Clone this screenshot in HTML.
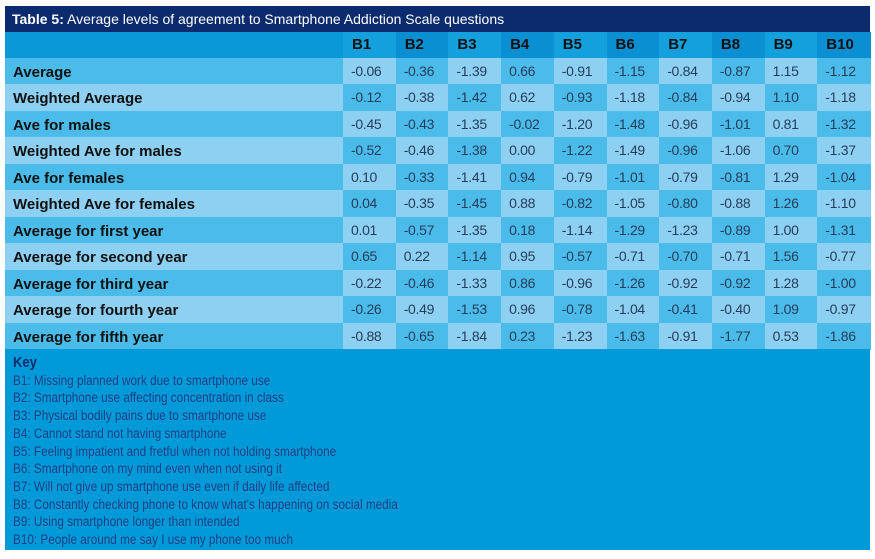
<!DOCTYPE html>
<html><head><meta charset="utf-8">
<style>
body{margin:0;width:875px;height:559px;background:#fff;position:relative;overflow:hidden;font-family:"Liberation Sans",sans-serif}
.c{position:absolute;box-sizing:border-box;white-space:nowrap}
#title{left:5px;top:6px;width:865px;height:26px;background:#0b2b6e;color:#fff;font-size:14px;line-height:26px;padding-left:7px}
#key{left:5px;top:349px;width:865px;height:201px;background:#009ad8;padding:5px 0 0 8px}
#keyin{color:#1d3f86;font-size:13.5px;line-height:17.7px;transform:scaleX(0.87);transform-origin:0 0;white-space:nowrap}
#keyin b{color:#0b2b6e;font-size:15px}
.lab{font-weight:bold;font-size:15px;color:#111;padding-left:8px;padding-top:2px}
.hd{font-weight:bold;font-size:15px;color:#111;padding-left:9px}
.num{font-size:14px;color:#263c5c;padding-left:8px;letter-spacing:-0.3px}
</style></head><body>
<div id="title" class="c"><b>Table 5:</b> Average levels of agreement to Smartphone Addiction Scale questions</div>
<div id="tbl"></div>
<div id="key" class="c"><div id="keyin"><b>Key</b><br>
B1: Missing planned work due to smartphone use<br>
B2: Smartphone use affecting concentration in class<br>
B3: Physical bodily pains due to smartphone use<br>
B4: Cannot stand not having smartphone<br>
B5: Feeling impatient and fretful when not holding smartphone<br>
B6: Smartphone on my mind even when not using it<br>
B7: Will not give up smartphone use even if daily life affected<br>
B8: Constantly checking phone to know what's happening on social media<br>
B9: Using smartphone longer than intended<br>
B10: People around me say I use my phone too much</div></div>
<script>
const columns=["B1","B2","B3","B4","B5","B6","B7","B8","B9","B10"];
const rowLabels=["Average","Weighted Average","Ave for males","Weighted Ave for males","Ave for females","Weighted Ave for females","Average for first year","Average for second year","Average for third year","Average for fourth year","Average for fifth year"];
const values=[
["-0.06","-0.36","-1.39","0.66","-0.91","-1.15","-0.84","-0.87","1.15","-1.12"],
["-0.12","-0.38","-1.42","0.62","-0.93","-1.18","-0.84","-0.94","1.10","-1.18"],
["-0.45","-0.43","-1.35","-0.02","-1.20","-1.48","-0.96","-1.01","0.81","-1.32"],
["-0.52","-0.46","-1.38","0.00","-1.22","-1.49","-0.96","-1.06","0.70","-1.37"],
["0.10","-0.33","-1.41","0.94","-0.79","-1.01","-0.79","-0.81","1.29","-1.04"],
["0.04","-0.35","-1.45","0.88","-0.82","-1.05","-0.80","-0.88","1.26","-1.10"],
["0.01","-0.57","-1.35","0.18","-1.14","-1.29","-1.23","-0.89","1.00","-1.31"],
["0.65","0.22","-1.14","0.95","-0.57","-0.71","-0.70","-0.71","1.56","-0.77"],
["-0.22","-0.46","-1.33","0.86","-0.96","-1.26","-0.92","-0.92","1.28","-1.00"],
["-0.26","-0.49","-1.53","0.96","-0.78","-1.04","-0.41","-0.40","1.09","-0.97"],
["-0.88","-0.65","-1.84","0.23","-1.23","-1.63","-0.91","-1.77","0.53","-1.86"]];
const tbl=document.getElementById('tbl');
const X0=5,LW=338,CW=52.7,HT=32,HH=26,RT=58,RH=26.45;
function cell(x,y,w,h,bg,cls,txt){const d=document.createElement('div');d.className='c '+cls;
d.style.left=x+'px';d.style.top=y+'px';d.style.width=(w+0.6)+'px';d.style.height=(h+0.6)+'px';
d.style.background=bg;d.style.lineHeight=h+'px';
d.textContent=txt;tbl.appendChild(d);return d;}
let h=cell(X0,HT,LW,HH,'#0a98d8','hd','');


columns.forEach((c,j)=>{const d=cell(X0+LW+j*CW,HT,CW,HH,j%2?'#0a8fd2':'#14a0dd','hd',c);

});
rowLabels.forEach((r,i)=>{const y=RT+i*RH;
const l=cell(X0,y,LW,RH,i%2?'#8dd0f1':'#4bbce9','lab',r);


values[i].forEach((v,j)=>{const light=(i+j)%2===0;
const d=cell(X0+LW+j*CW,y,CW,RH,light?'#8dd0f1':'#4bbce9','num',v);

});});
</script>
</body></html>
